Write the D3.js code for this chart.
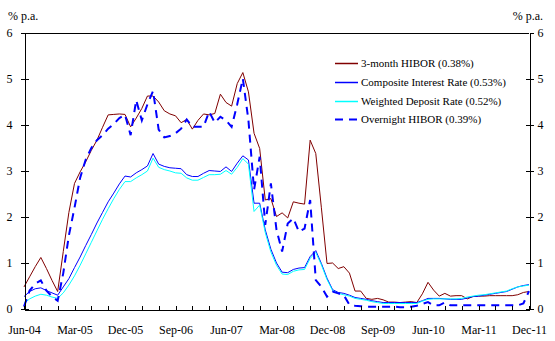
<!DOCTYPE html>
<html>
<head>
<meta charset="utf-8">
<script src="https://cdn.jsdelivr.net/npm/d3@7"></script>
<style>
  html, body { margin: 0; padding: 0; background: #fff; }
  svg { display: block; }
  text { font-family: "Liberation Serif", "Times New Roman", serif; fill: #000; }
</style>
</head>
<body>
<svg id="chart" width="555" height="341"></svg>
<script>
// ---- data ----
const months = d3.timeMonth.range(new Date(2004, 5, 1), new Date(2012, 0, 1)).map(d3.timeFormat("%b-%y"));
const tickLabels = ["Jun-04","Mar-05","Dec-05","Sep-06","Jun-07","Mar-08","Dec-08","Sep-09","Jun-10","Mar-11","Dec-11"];
const yTicks = [0, 1, 2, 3, 4, 5, 6];

const hibor3m = [0.48,0.70,0.92,1.12,0.88,0.62,0.38,1.25,2.10,2.73,2.98,3.20,3.45,3.67,3.95,4.22,4.23,4.24,4.23,3.96,
  4.15,4.36,4.63,4.63,4.50,4.31,4.24,4.20,4.05,4.12,3.91,4.10,4.24,4.22,4.25,4.67,4.49,4.41,4.90,5.14,
  4.72,3.82,3.49,2.37,2.40,2.01,2.09,1.98,2.33,2.30,2.28,3.67,3.38,2.20,0.99,1.00,0.88,0.92,0.78,0.39,
  0.39,0.23,0.21,0.23,0.20,0.15,0.15,0.14,0.15,0.16,0.14,0.33,0.58,0.41,0.28,0.34,0.28,0.29,0.29,0.22,
  0.27,0.28,0.28,0.29,0.29,0.29,0.29,0.29,0.31,0.36,0.38];
const composite = [0.27,0.38,0.44,0.46,0.40,0.35,0.30,0.48,0.66,0.90,1.13,1.38,1.62,1.87,2.10,2.33,2.52,2.72,2.89,2.87,
  2.96,3.03,3.11,3.38,3.15,3.10,3.07,3.06,3.05,2.92,2.88,2.88,2.95,3.01,3.00,2.99,3.09,2.99,3.17,3.33,
  3.24,2.30,2.30,1.72,1.30,1.00,0.80,0.79,0.86,0.89,0.90,1.14,1.27,0.99,0.67,0.42,0.36,0.34,0.30,0.25,
  0.23,0.21,0.18,0.16,0.14,0.14,0.14,0.14,0.14,0.14,0.14,0.18,0.23,0.23,0.23,0.22,0.21,0.21,0.21,0.24,
  0.27,0.28,0.30,0.32,0.34,0.36,0.38,0.43,0.48,0.51,0.53];
const weightedDeposit = [0.12,0.22,0.28,0.32,0.30,0.26,0.23,0.35,0.52,0.72,0.95,1.20,1.45,1.70,1.95,2.18,2.40,2.60,2.77,2.77,
  2.85,2.92,3.00,3.28,3.08,3.03,3.00,2.96,2.95,2.85,2.80,2.80,2.86,2.92,2.92,2.93,3.01,2.93,3.08,3.27,
  3.15,2.12,2.26,1.66,1.24,0.95,0.76,0.75,0.82,0.85,0.86,1.10,1.23,0.96,0.64,0.40,0.34,0.31,0.28,0.23,
  0.21,0.19,0.16,0.14,0.12,0.12,0.12,0.12,0.12,0.12,0.12,0.17,0.21,0.22,0.22,0.22,0.22,0.22,0.23,0.26,
  0.28,0.30,0.31,0.33,0.35,0.37,0.39,0.44,0.48,0.50,0.52];
const overnight = [0.05,0.40,0.55,0.62,0.40,0.27,0.18,0.78,1.60,2.20,2.85,3.25,3.50,3.67,3.78,3.92,4.02,4.15,4.22,3.78,
  4.54,4.10,4.45,4.74,3.90,3.73,3.76,3.82,3.92,4.12,3.96,3.96,3.96,4.29,4.05,4.18,4.10,3.96,4.45,5.01,
  4.10,2.59,3.31,1.83,2.73,1.72,1.25,1.86,1.97,1.68,1.75,2.37,0.63,0.48,0.27,0.38,0.34,0.30,0.09,0.07,
  0.06,0.05,0.05,0.05,0.05,0.05,0.05,0.04,0.04,0.05,0.07,0.11,0.15,0.08,0.08,0.14,0.08,0.08,0.08,0.08,
  0.08,0.08,0.08,0.08,0.08,0.08,0.08,0.08,0.08,0.12,0.39];

const seriesNames = ["3-month HIBOR (0.38%)","Composite Interest Rate (0.53%)","Weighted Deposit Rate (0.52%)","Overnight HIBOR (0.39%)"];
const seriesColors = ["#800000","#0000ff","#00ffff","#0000ff"];

// ---- chart ----
const svg = d3.select("#chart");
const L = 24, R = 529, T = 33, B = 309;
const x = d3.scalePoint().domain(months).range([L, R]);
const y = d3.scaleLinear().domain([0, 6]).range([B, T]);

const series = [
  { name: seriesNames[0], values: hibor3m, color: seriesColors[0], width: 1, dash: null },
  { name: seriesNames[1], values: composite, color: seriesColors[1], width: 1, dash: null },
  { name: seriesNames[2], values: weightedDeposit, color: seriesColors[2], width: 1, dash: null },
  { name: seriesNames[3], values: overnight, color: seriesColors[3], width: 2, dash: "8,6" }
];

const line = d3.line().x((d, i) => x(months[i])).y(d => y(d));

const gLines = svg.append("g");
series.forEach(s => {
  gLines.append("path")
    .datum(s.values)
    .attr("fill", "none")
    .attr("stroke", s.color)
    .attr("stroke-width", s.width)
    .attr("stroke-dasharray", s.dash)
    .attr("d", line);
});

// frame
svg.append("line").attr("x1", L).attr("x2", R).attr("y1", T + 0.5).attr("y2", T + 0.5)
  .attr("stroke", "#000").attr("stroke-width", 1);

function styleAxis(g) {
  g.select(".domain").attr("stroke", "#000");
  g.selectAll(".tick line").attr("stroke", "#000");
  g.selectAll("text").style("font-family", '"Liberation Serif", "Times New Roman", serif').style("font-size", "12px").attr("fill", "#000");
  g.attr("shape-rendering", "crispEdges");
}

// left axis (outer ticks + labels)
svg.append("g").attr("transform", `translate(${L + 0.5},0)`)
  .call(d3.axisLeft(y).tickValues(yTicks).tickSize(4).tickSizeOuter(0).tickPadding(8).tickFormat(d3.format("d")))
  .call(styleAxis);
svg.append("g").attr("transform", `translate(${L + 0.5},0)`)
  .call(d3.axisRight(y).tickValues(yTicks.slice(0, -1)).tickSize(4).tickSizeOuter(0).tickFormat(""))
  .call(g => g.select(".domain").remove())
  .call(styleAxis);

// right axis
svg.append("g").attr("transform", `translate(${R + 0.5},0)`)
  .call(d3.axisRight(y).tickValues(yTicks).tickSize(4).tickSizeOuter(0).tickPadding(4).tickFormat(d3.format("d")))
  .call(styleAxis);
svg.append("g").attr("transform", `translate(${R + 0.5},0)`)
  .call(d3.axisLeft(y).tickValues(yTicks.slice(0, -1)).tickSize(4).tickSizeOuter(0).tickFormat(""))
  .call(g => g.select(".domain").remove())
  .call(styleAxis);

// bottom axis
const quarterTicks = months.filter((m, i) => i % 3 === 0);
svg.append("g").attr("transform", `translate(0,${B + 0.5})`)
  .call(d3.axisBottom(x).tickValues(quarterTicks).tickSize(-4).tickSizeOuter(0).tickPadding(16)
    .tickFormat(m => tickLabels.includes(m) ? m : ""))
  .call(styleAxis);

// unit labels
svg.append("text").attr("x", 8).attr("y", 20).style("font-size", "12px").text("% p.a.");
svg.append("text").attr("x", 543).attr("y", 20).attr("text-anchor", "end").style("font-size", "12px").text("% p.a.");

// legend
const legendY = [63, 82, 101, 119];
const lg = svg.append("g");
series.forEach((s, i) => {
  lg.append("line").attr("x1", 335).attr("x2", 358).attr("y1", legendY[i] + 0.5).attr("y2", legendY[i] + 0.5)
    .attr("stroke", s.color).attr("stroke-width", s.dash ? 2 : 1.5)
    .attr("stroke-dasharray", s.dash);
  lg.append("text").attr("x", 361).attr("y", legendY[i] + 4).style("font-size", "11px").text(s.name);
});
</script>
</body>
</html>
